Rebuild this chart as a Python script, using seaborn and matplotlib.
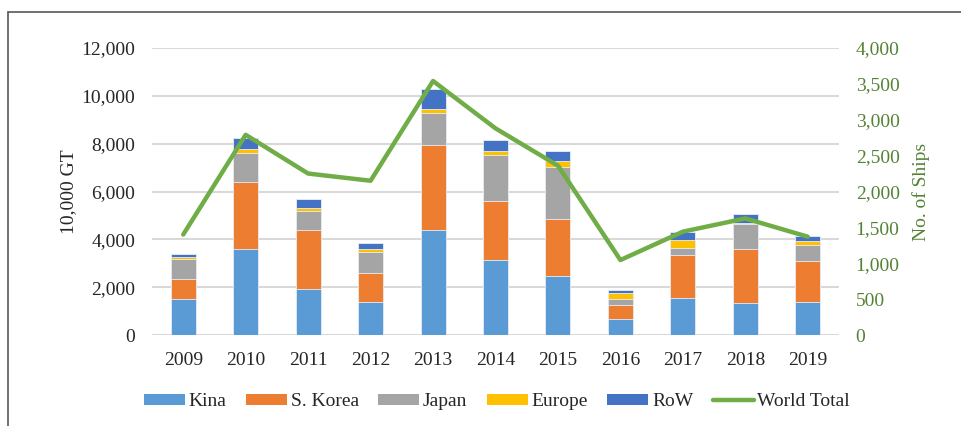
import numpy as np
import pandas as pd
import matplotlib
matplotlib.use("Agg")
import matplotlib.pyplot as plt
import seaborn as sns
from matplotlib.patches import Patch
from matplotlib.lines import Line2D

years = ["2009", "2010", "2011", "2012", "2013", "2014", "2015", "2016", "2017", "2018", "2019"]
kina = [1490, 3600, 1910, 1380, 4390, 3120, 2480, 670, 1530, 1330, 1370]
s_korea = [850, 2790, 2500, 1200, 3550, 2470, 2350, 570, 1830, 2280, 1730]
japan = [850, 1200, 760, 870, 1360, 1930, 2200, 250, 290, 1030, 680]
europe = [60, 170, 120, 140, 160, 190, 240, 280, 340, 60, 170]
row = [120, 470, 400, 260, 840, 440, 440, 110, 330, 350, 210]
world_total = [1400, 2790, 2250, 2150, 3540, 2880, 2360, 1045, 1440, 1625, 1370]

series_names = ["Kina", "S. Korea", "Japan", "Europe", "RoW"]
series_values = [kina, s_korea, japan, europe, row]
colors = ["#5B9BD5", "#ED7D31", "#A5A5A5", "#FFC000", "#4472C4"]
line_color = "#70AD47"
right_text = "#548235"
left_text = "#262626"

sns.set_theme(style="white")
plt.rcParams["font.family"] = ["Liberation Serif", "DejaVu Serif"]

fig = plt.figure(figsize=(9.62, 4.26), dpi=100)
ax = fig.add_axes([152 / 962, 1 - 335 / 426, (839 - 152) / 962, (335 - 48) / 426])

cum = np.zeros(len(years))
cums = []
for vals in series_values:
    cum = cum + np.array(vals)
    cums.append(cum.copy())

# draw from top of stack downward so lower segments overlay
for name, c, col in reversed(list(zip(series_names, cums, colors))):
    d = pd.DataFrame({"year": years, "value": c})
    sns.barplot(data=d, x="year", y="value", color=col, width=0.4, ax=ax,
                edgecolor="#E8EEF6", linewidth=0.6, saturation=1, zorder=3)

ax.set_ylim(0, 12000)
ax.set_yticks(np.arange(0, 12001, 2000))
ax.yaxis.set_major_formatter(matplotlib.ticker.FuncFormatter(lambda v, p: f"{int(v):,}"))
ax.grid(axis="y", color="#D9D9D9", linewidth=1.5, zorder=0)
ax.set_axisbelow(True)
for s in ax.spines.values():
    s.set_visible(False)
ax.tick_params(axis="both", length=0, labelsize=14, labelcolor=left_text)
ax.tick_params(axis="x", pad=12)
ax.tick_params(axis="y", pad=12)
ax.set_xlabel("")
ax.set_ylabel("10,000 GT", fontsize=14, color=left_text, labelpad=3)
ax.set_xlim(-0.5, len(years) - 0.5)

ax2 = ax.twinx()
d2 = pd.DataFrame({"year": years, "ships": world_total})
sns.pointplot(data=d2, x="year", y="ships", color=line_color, markers="",
              linewidth=3.2, ax=ax2, zorder=5)
ax2.set_ylim(0, 4000)
ax2.set_yticks(np.arange(0, 4001, 500))
ax2.yaxis.set_major_formatter(matplotlib.ticker.FuncFormatter(lambda v, p: f"{int(v):,}"))
ax2.set_xlim(-0.5, len(years) - 0.5)
for s in ax2.spines.values():
    s.set_visible(False)
ax2.tick_params(axis="y", length=0, labelsize=14, labelcolor=right_text, pad=12)
ax2.set_ylabel("No. of Ships", fontsize=14, color=right_text, labelpad=9)
ax2.grid(False)

handles = [Patch(facecolor=c, edgecolor="none", label=n) for n, c in zip(series_names, colors)]
handles.append(Line2D([0], [0], color=line_color, linewidth=3.2, label="World Total"))
fig.legend(handles=handles, loc="center", bbox_to_anchor=(497 / 962, 1 - 402 / 426),
           ncol=6, frameon=False, fontsize=14, handlelength=2.1, handleheight=0.55,
           handletextpad=0.2, columnspacing=1.0, labelcolor=left_text)

# outer frame (top and left edges visible)
fig.add_artist(Line2D([8 / 962, 8 / 962], [0, 1 - 12 / 426], transform=fig.transFigure,
                      color="#595959", linewidth=1.2))
fig.add_artist(Line2D([8 / 962, 1], [1 - 12 / 426, 1 - 12 / 426], transform=fig.transFigure,
                      color="#595959", linewidth=1.2))

fig.savefig("out.png", dpi=100)
